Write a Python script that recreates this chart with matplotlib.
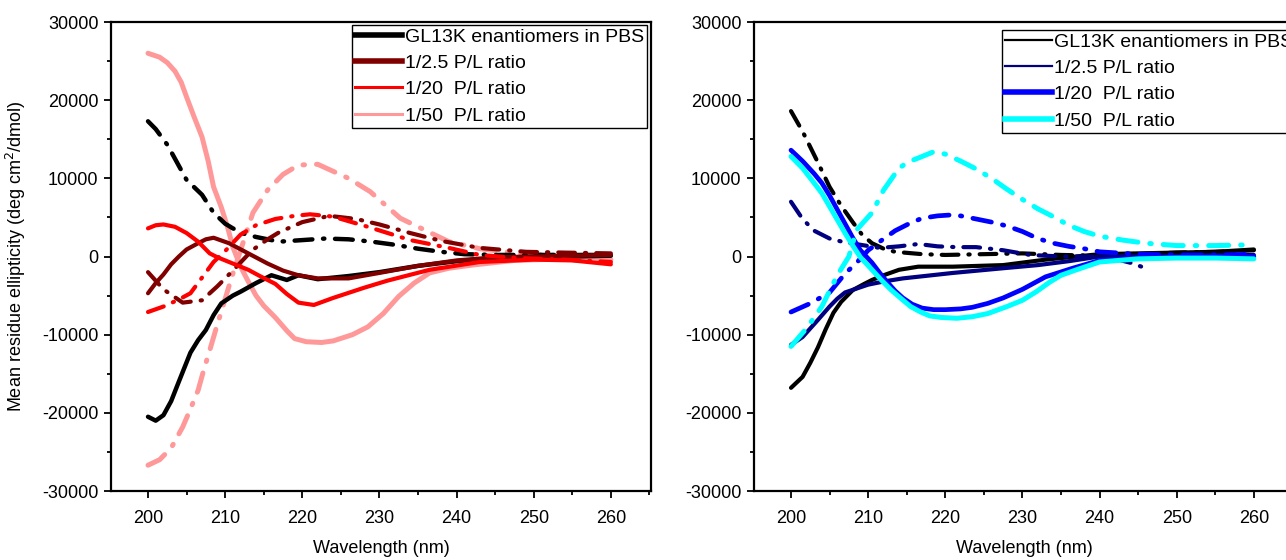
import numpy as np
import matplotlib
matplotlib.use('Agg')
import matplotlib.pyplot as plt
from matplotlib.lines import Line2D
from matplotlib.ticker import MultipleLocator

plt.rcParams['font.family'] = ['Liberation Sans', 'DejaVu Sans']
plt.rcParams['axes.unicode_minus'] = False

labels = ['GL13K enantiomers in PBS', '1/2.5 P/L ratio', '1/20  P/L ratio', '1/50  P/L ratio']

# ---- left panel (red series) ----
l_black_wl = [200, 201, 202, 203, 204, 205.5, 206.5, 207.5, 208.5, 209.5, 211, 212, 214, 216, 218, 219.5, 222, 226, 230, 235, 240, 245, 250, 255, 260]
l_black = [-20500, -21000, -20300, -18500, -16000, -12300, -10700, -9400, -7500, -6000, -5000, -4500, -3400, -2400, -3000, -2400, -2900, -2500, -2000, -1200, -600, -200, 0, 0, 100]
l_black_dd_wl = [200, 201, 202.5, 204, 205, 207, 208.5, 210, 211, 212.5, 214, 217, 220, 223, 226, 229, 232, 235, 238, 241, 245, 250, 255, 260]
l_black_dd = [17300, 16300, 14300, 11600, 9800, 7900, 5600, 4200, 3600, 2900, 2500, 1900, 2100, 2300, 2200, 1900, 1500, 1000, 600, 300, 200, 200, 200, 200]

l_dred_wl = [200, 201, 202, 203, 204, 205, 206.5, 207.5, 208.5, 210.5, 213, 215.5, 217.5, 219.5, 222, 226, 230, 235, 240, 245, 250, 255, 260]
l_dred = [-4700, -3400, -2300, -1000, 0, 900, 1700, 2200, 2400, 1700, 400, -900, -1800, -2400, -2800, -2800, -2100, -1200, -500, -100, 0, 100, 200]
l_dred_dd_wl = [200, 202, 204.5, 207, 209, 211, 213.5, 215.5, 217, 220, 223.5, 227, 230, 234, 238, 243, 249, 254, 260]
l_dred_dd = [-2000, -4200, -5900, -5600, -3800, -1800, 800, 2200, 3100, 4400, 5200, 4800, 4100, 3000, 2000, 1100, 600, 500, 400]

l_red_wl = [200, 201, 202, 203.5, 205, 206.5, 208, 209, 210, 211.5, 213, 214.5, 216.5, 218, 219.5, 221.5, 224, 228, 231, 236.5, 243, 250, 255, 260]
l_red = [3600, 4000, 4100, 3800, 3000, 1900, 400, -100, -500, -1100, -1700, -2500, -3500, -4800, -5900, -6200, -5300, -4000, -3100, -1700, -700, -400, -500, -1000]
l_red_dd_wl = [200, 202, 204, 205.5, 207, 208.5, 210, 212, 214, 216.5, 219, 221, 224, 228.5, 234, 239, 243, 248, 254, 260]
l_red_dd = [-7100, -6400, -5500, -4700, -2700, -700, 700, 2800, 4000, 4800, 5200, 5400, 5100, 3800, 2100, 1100, 200, -200, -400, -700]

l_pink_wl = [200, 201.5, 202.5, 203.5, 204.3, 205, 206, 207, 207.8, 208.5, 209.5, 210.3, 211, 212, 213, 214, 215, 216.5, 218, 219, 220.5, 222.5, 224, 226.5, 228.5, 230.5, 232.5, 234.5, 236.5, 239, 242, 247.5, 254, 260]
l_pink = [26000, 25500, 24800, 23700, 22300, 20400, 17800, 15300, 12200, 8900, 6300, 3800, 1200, -1300, -3200, -5000, -6300, -7800, -9500, -10500, -10900, -11000, -10800, -10000, -9000, -7300, -5100, -3400, -2100, -1500, -1100, -500, -300, -400]
l_pink_dd_wl = [200, 201.5, 203, 204.5, 205.5, 206.5, 207.2, 208, 208.8, 209.7, 210.8, 212, 213.6, 215.5, 217.5, 219.5, 222, 224, 226, 228.8, 232.7, 235, 239, 243, 248, 254, 260]
l_pink_dd = [-26700, -26000, -24500, -21800, -19500, -17100, -14600, -12000, -9300, -6400, -2800, 800, 5600, 8500, 10500, 11700, 11800, 10900, 10000, 8300, 4900, 3800, 1900, 1000, 400, 100, 0]

# ---- right panel (blue series) ----
r_black_wl = [200, 201.5, 202.5, 203.5, 204.5, 205.5, 206.5, 208, 209.5, 210.5, 212, 214, 216.5, 221, 227.5, 233, 240, 245, 250, 255, 260]
r_black = [-16800, -15400, -13600, -11600, -9300, -7200, -5800, -4300, -3500, -3000, -2400, -1700, -1300, -1300, -1100, -400, 300, 400, 500, 600, 900]
r_black_dd_wl = [200, 201.5, 203.5, 205, 206.5, 208, 209.2, 210.5, 212, 213.5, 217, 220, 225, 230, 235, 240, 245, 250, 255, 260]
r_black_dd = [18600, 16000, 12000, 8900, 6500, 4400, 2800, 1700, 1000, 600, 300, 200, 300, 400, 200, 100, 300, 500, 600, 800]

r_navy_wl = [200, 201.5, 203.5, 205, 206, 207, 208.5, 210, 212, 214.5, 221, 227.5, 232, 236, 240, 245, 250, 255, 260]
r_navy = [-11300, -10300, -8100, -6400, -5400, -4600, -4100, -3600, -3200, -2800, -2100, -1500, -1100, -600, 0, 100, 100, 200, 200]
r_navy_dd_wl = [200, 201.5, 203, 205, 207, 209, 211.5, 214, 216.5, 219, 221.5, 224, 227.5, 231, 235, 239, 242, 244, 246]
r_navy_dd = [7000, 4800, 3300, 2300, 1800, 1500, 1100, 1300, 1600, 1300, 1200, 1200, 800, 200, 0, 0, -300, -800, -1500]

r_blue_wl = [200, 201.5, 203, 204, 205, 206, 207, 208, 209, 210.5, 211.5, 212.5, 213.5, 214.5, 215.7, 217, 218.5, 220, 222, 223.5, 225.5, 227.5, 230, 233, 236.5, 240, 245, 250, 255, 260]
r_blue = [13600, 12200, 10600, 9400, 7800, 6000, 4200, 2400, 800, -800, -2100, -3300, -4400, -5300, -6100, -6600, -6800, -6800, -6700, -6500, -6000, -5300, -4200, -2600, -1500, -500, -200, -100, 0, 0]
r_blue_dd_wl = [200, 202.5, 205, 207, 208.5, 210, 211.5, 213.5, 215.5, 217, 219, 220.5, 222, 224, 226, 228, 230, 232, 234, 236, 238, 240, 245, 250, 255, 260]
r_blue_dd = [-7100, -6000, -4600, -2200, -800, 800, 1900, 3300, 4300, 4900, 5200, 5300, 5200, 4800, 4400, 3900, 3200, 2300, 1700, 1300, 1000, 600, 300, 200, 200, 300]

r_cyan_wl = [200, 201.5, 203, 204, 205, 206, 207, 208, 209, 210.5, 211.7, 213, 214.3, 215.5, 216.8, 218, 219.5, 221.5, 223.5, 225.5, 228, 230, 231.8, 233.5, 235, 237, 240, 245, 250, 255, 260]
r_cyan = [12800, 11300, 9400, 8100, 6400, 4700, 3000, 1400, -100, -1700, -3000, -4300, -5400, -6400, -7100, -7600, -7800, -7900, -7700, -7300, -6400, -5600, -4500, -3300, -2400, -1700, -700, -300, -200, -200, -300]
r_cyan_dd_wl = [200, 202, 204, 206, 207.5, 208.5, 210.5, 212, 214, 215.2, 216.5, 218.5, 220, 222, 224, 226, 228, 230, 232, 234, 236, 238, 240, 243, 246, 250, 255, 260]
r_cyan_dd = [-11500, -9200, -6400, -2400, 0, 3400, 5600, 8500, 11300, 12100, 12600, 13400, 13100, 12200, 11200, 10000, 8600, 7300, 6100, 5100, 4000, 3200, 2600, 2100, 1700, 1400, 1400, 1500]

left_colors = ['black', '#800000', '#ff0000', '#ff9999']
right_colors = ['black', '#000080', '#0000ff', '#00ffff']

dashdot = (0, (4, 2.4, 0.3, 2.4))

fig = plt.figure(figsize=(12.86, 5.6), dpi=100)
ax1 = fig.add_axes([0.0863, 0.1232, 0.4199, 0.8375])
ax2 = fig.add_axes([0.5863, 0.1232, 0.4199, 0.8375])

left_series = [(l_black_wl, l_black, l_black_dd_wl, l_black_dd),
               (l_dred_wl, l_dred, l_dred_dd_wl, l_dred_dd),
               (l_red_wl, l_red, l_red_dd_wl, l_red_dd),
               (l_pink_wl, l_pink, l_pink_dd_wl, l_pink_dd)]
left_order = [3, 0, 1, 2]
left_lw = [3.2, 3.0, 3.0, 3.6]
for i in left_order:
    s = left_series[i]
    c = left_colors[i]
    ax1.plot(s[0], s[1], color=c, lw=left_lw[i], solid_capstyle='round', solid_joinstyle='round')
    ax1.plot(s[2], s[3], color=c, lw=left_lw[i], linestyle=dashdot, dash_capstyle='round', dash_joinstyle='round')

right_series = [(r_black_wl, r_black, r_black_dd_wl, r_black_dd),
                (r_navy_wl, r_navy, r_navy_dd_wl, r_navy_dd),
                (r_blue_wl, r_blue, r_blue_dd_wl, r_blue_dd),
                (r_cyan_wl, r_cyan, r_cyan_dd_wl, r_cyan_dd)]
right_lw = [3.0, 3.0, 3.4, 3.6]
for i, s in enumerate(right_series):
    c = right_colors[i]
    ax2.plot(s[0], s[1], color=c, lw=right_lw[i], solid_capstyle='round', solid_joinstyle='round')
    ax2.plot(s[2], s[3], color=c, lw=right_lw[i], linestyle=dashdot, dash_capstyle='round', dash_joinstyle='round')

for ax in (ax1, ax2):
    ax.set_xlim(195.2, 265.2)
    ax.set_ylim(-30000, 30000)
    ax.xaxis.set_major_locator(MultipleLocator(10))
    ax.xaxis.set_minor_locator(MultipleLocator(5))
    ax.yaxis.set_major_locator(MultipleLocator(10000))
    ax.yaxis.set_minor_locator(MultipleLocator(5000))
    ax.tick_params(which='major', direction='out', length=5, width=1.3, labelsize=13)
    ax.tick_params(which='minor', direction='out', length=3, width=1.3)
    ax.tick_params(axis='x', pad=9)
    ax.tick_params(axis='y', pad=4)
    for sp in ax.spines.values():
        sp.set_linewidth(1.6)
    ax.set_xlabel('Wavelength (nm)', fontsize=13, labelpad=9)

ax1.set_ylabel('Mean residue ellipticity (deg cm$^2$/dmol)', fontsize=13, labelpad=10)

# legend handles keep the widths used in the original figure
lh = [Line2D([], [], color=c, lw=w) for c, w in zip(left_colors, [4, 4, 2.2, 2.2])]
rh = [Line2D([], [], color=c, lw=w) for c, w in zip(right_colors, [1.6, 1.6, 4, 4])]
legkw = dict(fontsize=14, fancybox=False, framealpha=1, edgecolor='black',
             handlelength=2.4, handletextpad=0.15, labelspacing=0.45, borderpad=0.15, borderaxespad=0)
leg1 = fig.legend(lh, labels, loc='upper right', bbox_to_anchor=(647 / 1286, 1 - 25 / 560), **legkw)
leg2 = fig.legend(rh, labels, loc='upper left', bbox_to_anchor=(1002 / 1286, 1 - 30 / 560), **legkw)
for lg in (leg1, leg2):
    lg.get_frame().set_linewidth(1.0)

fig.savefig('out.png', dpi=100)
